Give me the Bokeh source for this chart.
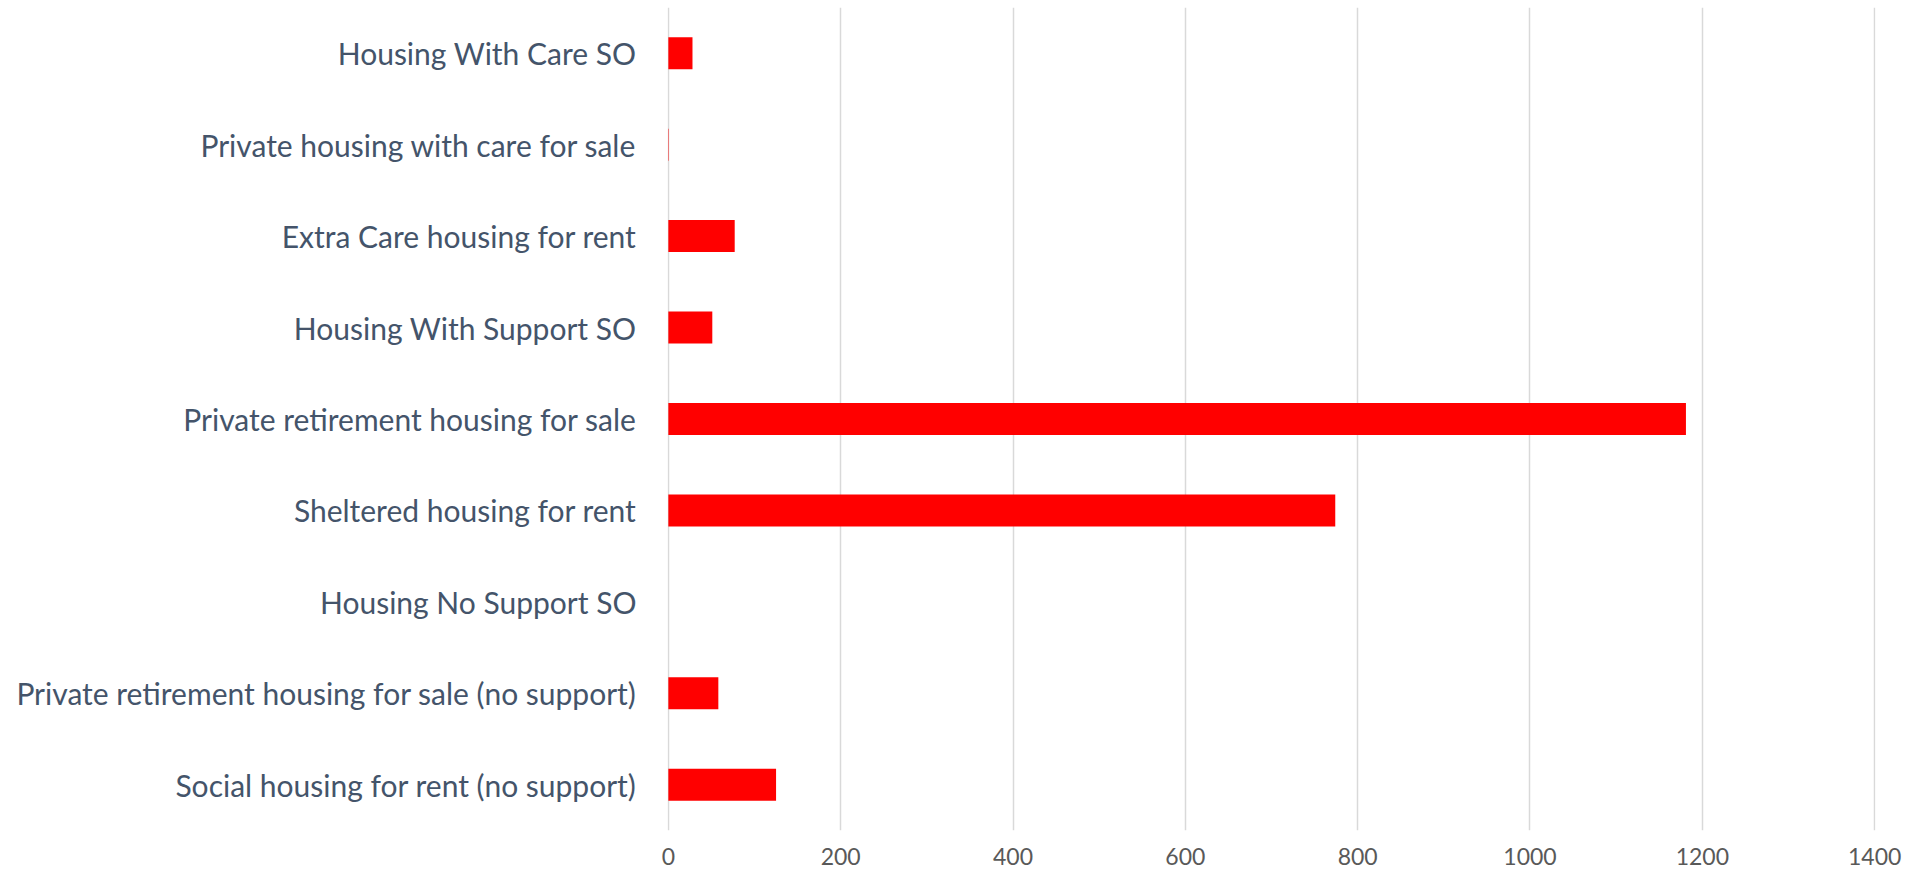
from bokeh.plotting import figure
from bokeh.models import FactorRange, Range1d, FixedTicker, ColumnDataSource
from bokeh.embed import file_html
from bokeh.resources import INLINE

categories = [
    "Housing With Care SO",
    "Private housing with care for sale",
    "Extra Care housing for rent",
    "Housing With Support SO",
    "Private retirement housing for sale",
    "Sheltered housing for rent",
    "Housing No Support SO",
    "Private retirement housing for sale (no support)",
    "Social housing for rent (no support)",
]
values = [28, 0.5, 77, 51, 1181, 774, 0, 58, 125]
x_ticks = [0, 200, 400, 600, 800, 1000, 1200, 1400]

src = ColumnDataSource(dict(cat=categories, val=values))

p = figure(
    width=1911, height=875,
    y_range=FactorRange(factors=list(reversed(categories))),
    x_range=Range1d(-1, 1401),
    output_backend="svg", toolbar_location=None,
    min_border_left=667, min_border_right=36,
    min_border_top=7, min_border_bottom=45,
)
p.outline_line_color = None
p.background_fill_color = "white"
p.border_fill_color = "white"

p.hbar(y="cat", right="val", left=0, height=0.35, source=src,
       fill_color="#FF0000", line_color=None)

p.xaxis.ticker = FixedTicker(ticks=x_ticks)
p.xaxis.axis_line_color = None
p.xaxis.major_tick_line_color = None
p.xaxis.minor_tick_line_color = None
p.xaxis.major_tick_out = 0
p.xaxis.major_tick_in = 0
p.xaxis.major_label_standoff = 17
p.xaxis.major_label_text_font = "Lato"
p.xaxis.major_label_text_font_size = "23px"
p.xaxis.major_label_text_color = "#595959"

p.yaxis.axis_line_color = None
p.yaxis.major_tick_line_color = None
p.yaxis.minor_tick_line_color = None
p.yaxis.major_tick_out = 0
p.yaxis.major_tick_in = 0
p.yaxis.major_label_standoff = 31
p.yaxis.major_label_text_font = "Lato"
p.yaxis.major_label_text_font_size = "30px"
p.yaxis.major_label_text_color = "#44546A"

p.xgrid.grid_line_color = "#D9D9D9"
p.xgrid.grid_line_width = 1.5
p.ygrid.grid_line_color = None

open("out.html", "w").write(file_html(p, INLINE))
